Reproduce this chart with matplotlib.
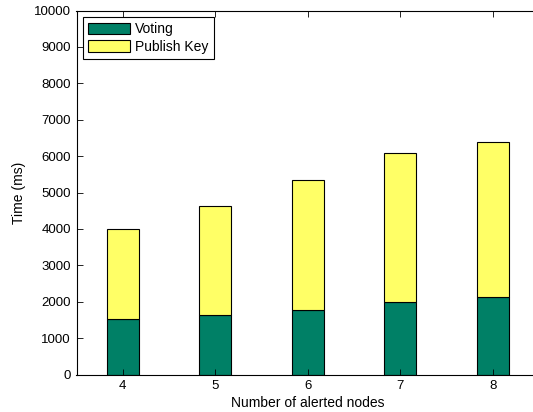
import matplotlib
matplotlib.use("Agg")
import matplotlib.pyplot as plt

nodes = [4, 5, 6, 7, 8]
voting = [1525, 1635, 1770, 1980, 2135]
publish_key = [2465, 2990, 3570, 4100, 4265]
series_names = ["Voting", "Publish Key"]
yticks = list(range(0, 10001, 1000))

plt.rcParams["font.family"] = ["Liberation Sans", "DejaVu Sans"]
plt.rcParams["font.size"] = 10

fig = plt.figure(figsize=(5.33, 4.12), dpi=100)
ax = fig.add_axes([76.5 / 533, 1 - 374.5 / 412, (539 - 76.5) / 533, (374.5 - 10.5) / 412])

green = "#008066"
yellow = "#ffff66"
w = 0.35
ax.bar(nodes, voting, width=w, color=green, edgecolor="black", linewidth=0.8,
       label=series_names[0])
ax.bar(nodes, publish_key, width=w, bottom=voting, color=yellow, edgecolor="black",
       linewidth=0.8, label=series_names[1])

ax.set_xlim(3.5, 8.5)
ax.set_ylim(0, 10000)
ax.set_xticks(nodes)
ax.set_yticks(yticks)
ax.tick_params(direction="in", top=True, right=True, length=4, width=0.6, pad=4,
               labelsize=9.5)
for s in ax.spines.values():
    s.set_linewidth(0.8)

ax.set_xlabel("Number of alerted nodes", labelpad=3)
ax.set_ylabel("Time (ms)", labelpad=6)

leg = ax.legend(loc="upper left", bbox_to_anchor=(0.013, 0.983), fancybox=False,
                edgecolor="black", framealpha=1, handlelength=3.0, handleheight=0.9,
                handletextpad=0.35, borderpad=0.4, labelspacing=0.25, borderaxespad=0)
leg.get_frame().set_linewidth(0.8)

fig.savefig("out.png", dpi=100)
